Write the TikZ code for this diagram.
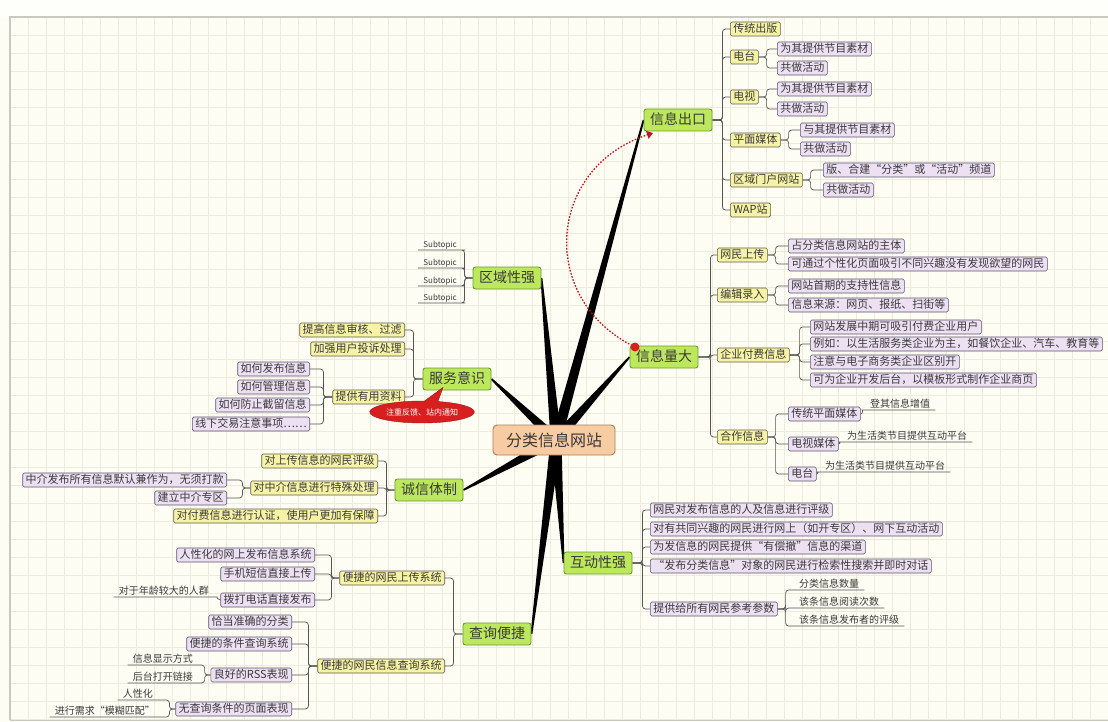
\documentclass[tikz,border=0pt]{standalone}
\usepackage{fontspec}
\setmainfont{Noto Sans CJK SC}
\usetikzlibrary{calc,shapes.callouts,arrows.meta}
\definecolor{bgc}{HTML}{FDFDF4}
\definecolor{gridc}{HTML}{ECECDD}
\definecolor{framec}{HTML}{C9C9BE}
\definecolor{mgf}{HTML}{BDE85E}
\definecolor{mgd}{HTML}{6C9A2C}
\definecolor{ybf}{HTML}{F7F3A6}
\definecolor{ybd}{HTML}{5E5C48}
\definecolor{pbf}{HTML}{EDE0F3}
\definecolor{pbd}{HTML}{5D5470}
\definecolor{cenf}{HTML}{F8CCA2}
\definecolor{cend}{HTML}{A97E5A}
\definecolor{txt}{HTML}{3A3A3A}
\definecolor{cl}{HTML}{555555}
\definecolor{rdc}{HTML}{D71F1F}
\pgfdeclarelayer{grid}
\pgfdeclarelayer{links}
\pgfsetlayers{grid,links,main}
\newcommand{\spoke}[2]{\fill[black] ($(#1)!5.5pt!90:(#2)$) -- ($(#2)!0.9pt!-90:(#1)$) -- ($(#2)!0.9pt!90:(#1)$) -- ($(#1)!5.5pt!-90:(#2)$) -- cycle;}
\begin{document}
\begin{tikzpicture}[x=1pt,y=-1pt,
  mainbox/.style={draw=mgd, fill=mgf, rounded corners=2.5pt, line width=0.9pt, text=txt,
    font=\fontsize{14}{15}\selectfont, inner xsep=6pt, inner ysep=4pt, text height=11.5pt, text depth=2.5pt},
  cenbox/.style={draw=cend, fill=cenf, rounded corners=4pt, line width=0.9pt, text=txt,
    font=\fontsize{16}{17}\selectfont, minimum width=122pt, minimum height=30pt},
  ybox/.style={draw=ybd, fill=ybf, rounded corners=1.5pt, line width=0.6pt, text=txt,
    font=\fontsize{11}{12}\selectfont, inner xsep=3pt, inner ysep=1.5pt, text height=8.8pt, text depth=2.2pt},
  pbox/.style={ybox, draw=pbd, fill=pbf},
  ulab/.style={text=txt, font=\fontsize{10}{11}\selectfont, inner xsep=5pt, inner ysep=1pt, text height=8pt, text depth=1.5pt},
  sublab/.style={ulab, font=\fontsize{8}{9}\selectfont, text height=6.5pt},
  conn/.style={draw=cl, line width=0.7pt, rounded corners=3pt},
]
\useasboundingbox (0,0) rectangle (1108,722);
\begin{pgfonlayer}{grid}
\fill[bgc] (0,0) rectangle (1108,722);
\fill[white!60!bgc] (0,0) rectangle (1108,17);
\foreach \gx in {28,46,...,1108} \draw[gridc,line width=0.6pt] (\gx,17) -- (\gx,720);
\foreach \gy in {35,53,...,719} \draw[gridc,line width=0.6pt] (10,\gy) -- (1108,\gy);
\draw[framec,line width=1.2pt] (10,720) -- (10,17) -- (1108,17);
\draw[framec,line width=0.8pt] (10,720) -- (1108,720);
\end{pgfonlayer}

% main topics
\coordinate (hub) at (556,440);
\node[cenbox] (cen) at (554,440) {分类信息网站};
\node[mainbox] (xx) at (678,120) {信息出口};
\node[mainbox] (lm) at (664,357) {信息量大};
\node[mainbox] (qy) at (507,278) {区域性强};
\node[mainbox] (fw) at (457,379) {服务意识};
\node[mainbox] (cx) at (429,490) {诚信体制};
\node[mainbox] (hd) at (598,563) {互动性强};
\node[mainbox] (cb) at (497,634) {查询便捷};

% 信息出口
\node[ybox,anchor=west] (a1) at (730,29) {传统出版};
\node[ybox,anchor=west] (a2) at (730,57) {电台};
\node[ybox,anchor=west] (a3) at (730,97) {电视};
\node[ybox,anchor=west] (a4) at (730,140) {平面媒体};
\node[ybox,anchor=west] (a5) at (730,180) {区域门户网站};
\node[ybox,anchor=west] (a6) at (730,210) {WAP站};
\node[pbox,anchor=west] (a21) at (777,49) {为其提供节目素材};
\node[pbox,anchor=west] (a22) at (777,68) {共做活动};
\node[pbox,anchor=west] (a31) at (777,89) {为其提供节目素材};
\node[pbox,anchor=west] (a32) at (777,109) {共做活动};
\node[pbox,anchor=west] (a41) at (800,130) {与其提供节目素材};
\node[pbox,anchor=west] (a42) at (800,149) {共做活动};
\node[pbox,anchor=west] (a51) at (823,170) {版、合建“分类”或“活动”频道};
\node[pbox,anchor=west] (a52) at (823,190) {共做活动};

% 信息量大
\node[ybox,anchor=west] (b1) at (717,255) {网民上传};
\node[ybox,anchor=west] (b2) at (717,295) {编辑录入};
\node[ybox,anchor=west] (b3) at (717,355) {企业付费信息};
\node[ybox,anchor=west] (b4) at (717,437) {合作信息};
\node[pbox,anchor=west] (b11) at (788,246) {占分类信息网站的主体};
\node[pbox,anchor=west] (b12) at (788,264) {可通过个性化页面吸引不同兴趣没有发现欲望的网民};
\node[pbox,anchor=west] (b21) at (788,286) {网站首期的支持性信息};
\node[pbox,anchor=west] (b22) at (788,305) {信息来源：网页、报纸、扫街等};
\node[pbox,anchor=west] (b31) at (810,327) {网站发展中期可吸引付费企业用户};
\node[pbox,anchor=west] (b32) at (810,344) {例如：以生活服务类企业为主，如餐饮企业、汽车、教育等};
\node[pbox,anchor=west] (b33) at (810,362) {注意与电子商务类企业区别开};
\node[pbox,anchor=west] (b34) at (810,380) {可为企业开发后台，以模板形式制作企业商页};
\node[pbox,anchor=west] (b41) at (788,414) {传统平面媒体};
\node[pbox,anchor=west] (b42) at (788,444) {电视媒体};
\node[pbox,anchor=west] (b43) at (788,474) {电台};
\node[ulab,anchor=south west] (h1) at (865,410) {登其信息增值};
\node[ulab,anchor=south west] (h2) at (842,442) {为生活类节目提供互动平台};
\node[ulab,anchor=south west] (h3) at (820,472) {为生活类节目提供互动平台};

% 区域性强
\node[sublab,anchor=south east] (s1) at (462,250) {Subtopic};
\node[sublab,anchor=south east] (s2) at (462,268) {Subtopic};
\node[sublab,anchor=south east] (s3) at (462,286) {Subtopic};
\node[sublab,anchor=south east] (s4) at (462,303) {Subtopic};

% 服务意识
\node[ybox,anchor=east] (f1) at (405,330) {提高信息审核、过滤};
\node[ybox,anchor=east] (f2) at (405,349) {加强用户投诉处理};
\node[ybox,anchor=east] (f3) at (405,397) {提供有用资料};
\node[pbox,anchor=east] (f31) at (310,369) {如何发布信息};
\node[pbox,anchor=east] (f32) at (310,387) {如何管理信息};
\node[pbox,anchor=east] (f33) at (310,405) {如何防止截留信息};
\node[pbox,anchor=east] (f34) at (310,424) {线下交易注意事项……};
\node[ellipse callout, fill=rdc, draw=rdc!75!black, text=white, font=\fontsize{8}{9}\selectfont,
  minimum width=88pt, minimum height=22pt, inner sep=1pt,
  callout absolute pointer={($(fw.south)+(-14,-3)$)}] (tip) at (422,412) {注重反馈、站内通知};

% 诚信体制
\node[ybox,anchor=east] (g1) at (378,461) {对上传信息的网民评级};
\node[ybox,anchor=east] (g2) at (378,488) {对中介信息进行特殊处理};
\node[ybox,anchor=east] (g3) at (378,516) {对付费信息进行认证，使用户更加有保障};
\node[pbox,anchor=east] (g21) at (227,480) {中介发布所有信息默认兼作为，无须打款};
\node[pbox,anchor=east] (g22) at (227,498) {建立中介专区};

% 互动性强
\node[pbox,anchor=west] (k1) at (650,510) {网民对发布信息的人及信息进行评级};
\node[pbox,anchor=west] (k2) at (650,529) {对有共同兴趣的网民进行网上（如开专区）、网下互动活动};
\node[pbox,anchor=west] (k3) at (650,547) {为发信息的网民提供“有偿撤”信息的渠道};
\node[pbox,anchor=west] (k4) at (650,566) {“发布分类信息”对象的网民进行检索性搜索并即时对话};
\node[pbox,anchor=west] (k5) at (650,609) {提供给所有网民参考参数};
\node[ulab,anchor=south west] (k51) at (794,590) {分类信息数量};
\node[ulab,anchor=south west] (k52) at (794,608) {该条信息阅读次数};
\node[ulab,anchor=south west] (k53) at (794,626) {该条信息发布者的评级};

% 查询便捷
\node[ybox,anchor=east] (q1) at (445,578) {便捷的网民上传系统};
\node[ybox,anchor=east] (q2) at (445,666) {便捷的网民信息查询系统};
\node[pbox,anchor=east] (q11) at (315,555) {人性化的网上发布信息系统};
\node[pbox,anchor=east] (q12) at (315,574) {手机短信直接上传};
\node[pbox,anchor=east] (q13) at (315,600) {拨打电话直接发布};
\node[ulab,anchor=south east] (q131) at (214,597) {对于年龄较大的人群};
\node[pbox,anchor=east] (q21) at (292,622) {恰当准确的分类};
\node[pbox,anchor=east] (q22) at (292,644) {便捷的条件查询系统};
\node[pbox,anchor=east] (q23) at (292,675) {良好的RSS表现};
\node[pbox,anchor=east] (q24) at (292,709) {无查询条件的页面表现};
\node[ulab,anchor=south east] (q231) at (198,665) {信息显示方式};
\node[ulab,anchor=south east] (q232) at (198,683) {后台打开链接};
\node[ulab,anchor=south east] (q241) at (158,700) {人性化};
\node[ulab,anchor=south east] (q242) at (160,717) {进行需求“模糊匹配”};

\coordinate (rs) at (635,347);
\coordinate (re) at (653,133);

\begin{pgfonlayer}{links}
% spokes
\spoke{hub}{xx.west}
\spoke{hub}{lm.west}
\spoke{hub}{qy.east}
\spoke{hub}{fw.east}
\spoke{hub}{cx.east}
\spoke{hub}{hd.west}
\spoke{hub}{cb.east}
% 信息出口
\foreach \c in {a1,a2,a3,a4,a5,a6} \draw[conn] (xx.east) -- ++(10,0) |- (\c.west);
\foreach \c in {a21,a22} \draw[conn] (a2.east) -- ++(8,0) |- (\c.west);
\foreach \c in {a31,a32} \draw[conn] (a3.east) -- ++(8,0) |- (\c.west);
\foreach \c in {a41,a42} \draw[conn] (a4.east) -- ++(8,0) |- (\c.west);
\foreach \c in {a51,a52} \draw[conn] (a5.east) -- ++(8,0) |- (\c.west);
% 信息量大
\foreach \c in {b1,b2,b3,b4} \draw[conn] (lm.east) -- ++(12,0) |- (\c.west);
\foreach \c in {b11,b12} \draw[conn] (b1.east) -- ++(8,0) |- (\c.west);
\foreach \c in {b21,b22} \draw[conn] (b2.east) -- ++(8,0) |- (\c.west);
\foreach \c in {b31,b32,b33,b34} \draw[conn] (b3.east) -- ++(10,0) |- (\c.west);
\foreach \c in {b41,b42,b43} \draw[conn] (b4.east) -- ++(8,0) |- (\c.west);
\draw[conn] (b41.east) to[out=0,in=180] (h1.south west) -- (h1.south east);
\draw[conn] (b42.east) to[out=0,in=180] (h2.south west) -- (h2.south east);
\draw[conn] (b43.east) to[out=0,in=180] (h3.south west) -- (h3.south east);
% 区域性强
\foreach \c in {s1,s2,s3,s4} \draw[conn] (qy.west) -- ++(-8,0) |- (\c.south east) -- (\c.south west);
% 服务意识
\foreach \c in {f1,f2,f3} \draw[conn] (fw.west) -- ++(-9,0) |- (\c.east);
\foreach \c in {f31,f32,f33,f34} \draw[conn] (f3.west) -- ++(-9,0) |- (\c.east);
% 诚信体制
\foreach \c in {g1,g2,g3} \draw[conn] (cx.west) -- ++(-8,0) |- (\c.east);
\foreach \c in {g21,g22} \draw[conn] (g2.west) -- ++(-8,0) |- (\c.east);
% 互动性强
\foreach \c in {k1,k2,k3,k4,k5} \draw[conn] (hd.east) -- ++(10,0) |- (\c.west);
\foreach \c in {k51,k52,k53} \draw[conn] (k5.east) -- ++(8,0) |- (\c.south west) -- (\c.south east);
% 查询便捷
\foreach \c in {q1,q2} \draw[conn] (cb.west) -- ++(-9,0) |- (\c.east);
\foreach \c in {q11,q12,q13} \draw[conn] (q1.west) -- ++(-8,0) |- (\c.east);
\draw[conn] (q13.west) to[out=180,in=0] (q131.south east) -- (q131.south west);
\foreach \c in {q21,q22,q23,q24} \draw[conn] (q2.west) -- ++(-9,0) |- (\c.east);
\foreach \c in {q231,q232} \draw[conn] (q23.west) -- ++(-6,0) |- (\c.south east) -- (\c.south west);
\foreach \c in {q241,q242} \draw[conn] (q24.west) -- ++(-6,0) |- (\c.south east) -- (\c.south west);
\end{pgfonlayer}
% relation (drawn above the topics)
\draw[rdc!85!black, dash pattern=on 1.6pt off 1.6pt, line width=1.3pt, -{Triangle[length=6pt,width=8pt]}]
  (rs) .. controls (538,300) and (546,168) .. (re);
\fill[rdc] (rs) circle[radius=4.5pt];
\end{tikzpicture}
\end{document}
